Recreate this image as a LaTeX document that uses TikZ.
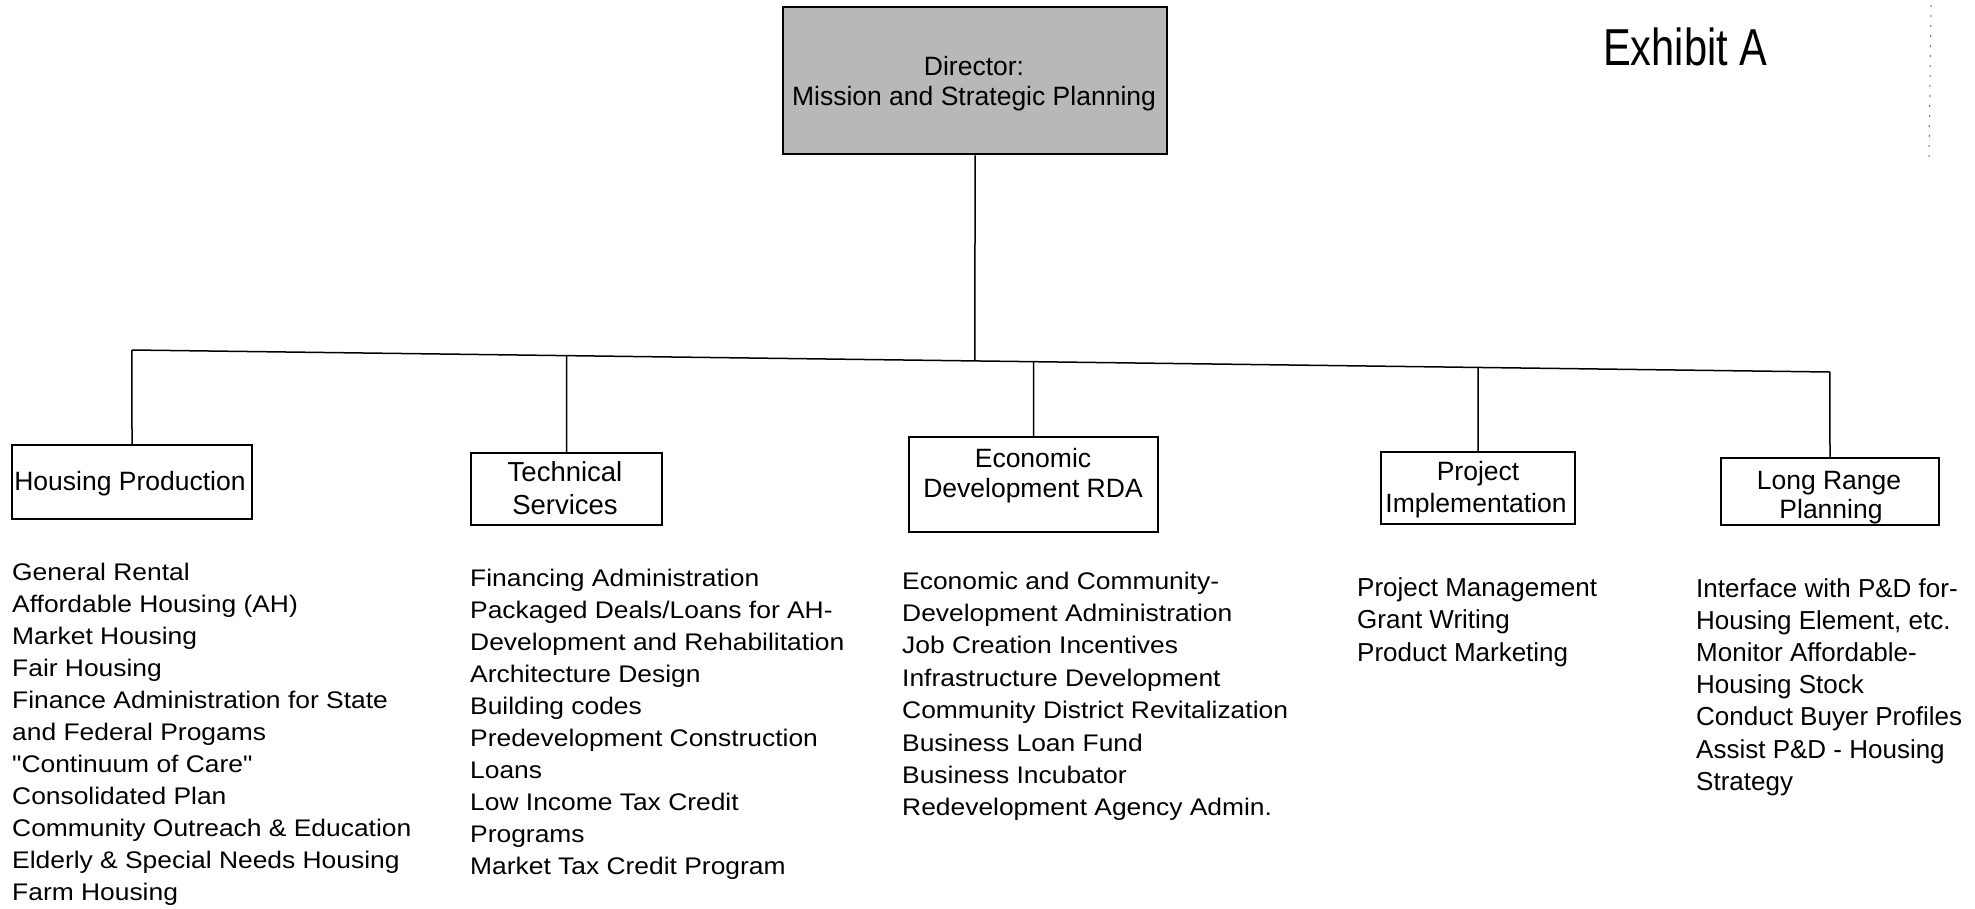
\documentclass[tikz,border=0pt]{standalone}
\usepackage{fontspec}
\setmainfont{Liberation Sans}
\newfontfamily\widesans{Liberation Sans}[FakeStretch=1.1]
\newfontfamily\titlesans{Liberation Sans}[FakeStretch=0.8]

\begin{document}
\begin{tikzpicture}[x=1pt,y=-1pt,
  unitbox/.style={draw=black, line width=1.8pt, inner sep=0pt},
  headbox/.style={draw=black, line width=2.6pt, fill=black!28, inner sep=0pt},
  wire/.style={draw=black, line width=1.5pt},
  boxlabel/.style={inner sep=0pt, anchor=base, font=\fontsize{26.5}{32}\selectfont},
  wideitem/.style={inner sep=0pt, anchor=base west, font=\widesans\fontsize{24}{32}\selectfont},
  plainitem/.style={inner sep=0pt, anchor=base west, font=\fontsize{26}{32}\selectfont}]

\fill[white] (0,0) rectangle (1975,908);
\useasboundingbox (0,0) rectangle (1975,908);

% title
\node[inner sep=0pt, anchor=base west, font=\titlesans\fontsize{52}{60}\selectfont] (exhibit) at (1603,65) {Exhibit A};

% director box
\node[headbox, minimum width=384pt, minimum height=147pt] (dir) at (975,80.5) {};
\node[boxlabel] (dir-1) at (974,75) {Director:};
\node[boxlabel] (dir-2) at (974,105) {Mission and Strategic Planning};

% division boxes
\node[unitbox, minimum width=240pt, minimum height=74pt] (hp) at (132,482) {};
\node[boxlabel] (hp-t) at (130,490) {Housing Production};

\node[unitbox, minimum width=191pt, minimum height=72pt] (ts) at (566.5,489) {};
\node[boxlabel, font=\fontsize{27.5}{32}\selectfont] (ts-1) at (565,481) {Technical};
\node[boxlabel, font=\fontsize{27.5}{32}\selectfont] (ts-2) at (565,514) {Services};

\node[unitbox, minimum width=249pt, minimum height=95pt] (ed) at (1033.5,484.5) {};
\node[boxlabel] (ed-1) at (1033,467) {Economic};
\node[boxlabel] (ed-2) at (1033,497) {Development RDA};

\node[unitbox, minimum width=194.5pt, minimum height=72pt] (pi) at (1478,488) {};
\node[boxlabel] (pi-1) at (1478,480) {Project};
\node[boxlabel] (pi-2) at (1476,512) {Implementation};

\node[unitbox, minimum width=218.5pt, minimum height=67pt] (lr) at (1830,491.5) {};
\node[boxlabel] (lr-1) at (1829,489) {Long Range};
\node[boxlabel] (lr-2) at (1831,518) {Planning};

% connectors
\coordinate (busL) at (132,350);
\coordinate (busR) at (1830,372);
\draw[wire] (busL) -- (busR);
\draw[wire] (dir.south) -- (intersection of busL--busR and dir.south--dir.north);
\foreach \b in {hp,ts,ed,pi,lr}
  \draw[wire] (\b.north) -- (intersection of busL--busR and \b.north--\b.south);

% duty lists
\foreach \t [count=\i from 0] in {General Rental, Affordable Housing (AH), Market Housing,
    Fair Housing, Finance Administration for State, and Federal Progams,
    "Continuum of Care", Consolidated Plan, Community Outreach \& Education,
    Elderly \& Special Needs Housing, Farm Housing}
  \node[wideitem] (hp-\i) at (12,580+32*\i) {\t};

\foreach \t [count=\i from 0] in {Financing Administration, Packaged Deals/Loans for AH-,
    Development and Rehabilitation, Architecture Design, Building codes,
    Predevelopment Construction, Loans, Low Income Tax Credit, Programs,
    Market Tax Credit Program}
  \node[wideitem] (ts-\i) at (470,586+32*\i) {\t};

\foreach \t [count=\i from 0] in {Economic and Community-, Development Administration,
    Job Creation Incentives, Infrastructure Development,
    Community District Revitalization, Business Loan Fund, Business Incubator,
    Redevelopment Agency Admin.}
  \node[wideitem] (ed-\i) at (902,589+32.4*\i) {\t};

\foreach \t [count=\i from 0] in {Project Management, Grant Writing, Product Marketing}
  \node[plainitem] (pi-\i) at (1357,596+32.5*\i) {\t};

\foreach \t [count=\i from 0] in {Interface with P\&D for-, {Housing Element, etc.},
    Monitor Affordable-, Housing Stock, Conduct Buyer Profiles,
    Assist P\&D - Housing, Strategy}
  \node[plainitem] (lr-\i) at (1696,597+32.2*\i) {\t};

% faint page-edge marks
\draw[black!55, line width=1pt, dash pattern=on 2pt off 8pt] (1931,5) -- (1929,160);
\end{tikzpicture}
\end{document}
